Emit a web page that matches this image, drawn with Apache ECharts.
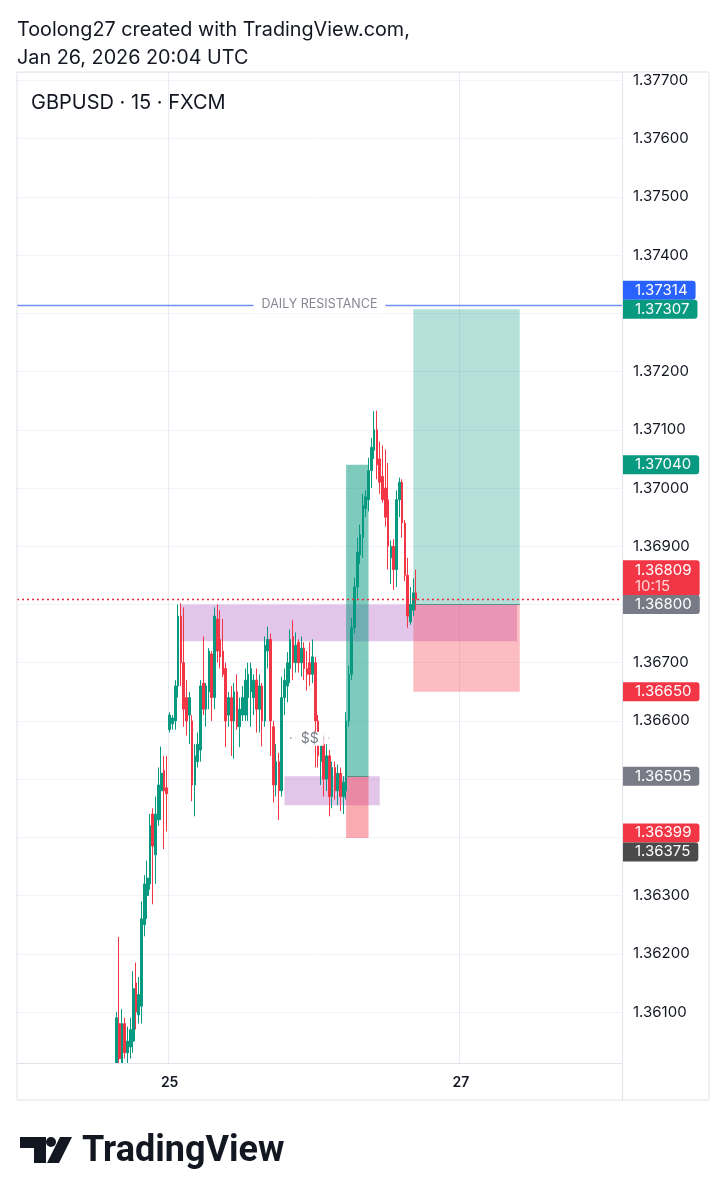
<!DOCTYPE html>
<html>
<head>
<meta charset="utf-8">
<title>GBPUSD 15</title>
<script src="https://cdn.jsdelivr.net/npm/echarts@6/dist/echarts.min.js"></script>
<style>
  html, body { margin: 0; padding: 0; background: #fff; }
  #main { width: 725px; height: 1200px; }
</style>
</head>
<body>
<div id="main"></div>
<script>
// ---- data -------------------------------------------------------------
// 15m bars [open, close, low, high], Fri 23 Jan 17:15 .. Mon 26 Jan 20:00 UTC
var firstBar = 'Jan 23 17:15';
var ohlc = [
  // Friday close
  [1.36000, 1.36090, 1.35980, 1.36100], [1.36080, 1.36020, 1.35990, 1.36229],
  [1.36010, 1.36080, 1.35990, 1.36105], [1.36080, 1.36030, 1.36020, 1.36090],
  [1.36030, 1.36050, 1.36005, 1.36075], [1.36040, 1.36070, 1.36020, 1.36090],
  [1.36050, 1.36140, 1.36030, 1.36170], [1.36150, 1.36100, 1.36070, 1.36185],
  [1.36095, 1.36130, 1.36080, 1.36160], [1.36110, 1.36260, 1.36080, 1.36290],
  [1.36250, 1.36320, 1.36230, 1.36335], [1.36300, 1.36330, 1.36260, 1.36360],
  [1.36320, 1.36420, 1.36310, 1.36440], [1.36440, 1.36385, 1.36285, 1.36450],
  [1.36370, 1.36440, 1.36320, 1.36470], [1.36430, 1.36490, 1.36420, 1.36520],
  [1.36480, 1.36510, 1.36430, 1.36556], [1.36515, 1.36480, 1.36380, 1.36540],
  [1.36485, 1.36475, 1.36410, 1.36540],
  // Sunday open / Monday
  [1.36585, 1.36610, 1.36580, 1.36615], [1.36595, 1.36605, 1.36585, 1.36610],
  [1.36600, 1.36660, 1.36585, 1.36670], [1.36660, 1.36780, 1.36640, 1.36800],
  [1.36780, 1.36700, 1.36660, 1.36802], [1.36700, 1.36620, 1.36590, 1.36795],
  [1.36640, 1.36600, 1.36575, 1.36670], [1.36610, 1.36640, 1.36560, 1.36650],
  [1.36600, 1.36490, 1.36462, 1.36610], [1.36490, 1.36540, 1.36436, 1.36560],
  [1.36530, 1.36560, 1.36520, 1.36580], [1.36550, 1.36660, 1.36530, 1.36670],
  [1.36665, 1.36620, 1.36610, 1.36745], [1.36620, 1.36660, 1.36590, 1.36665],
  [1.36650, 1.36720, 1.36620, 1.36725], [1.36715, 1.36640, 1.36600, 1.36720],
  [1.36640, 1.36780, 1.36620, 1.36795], [1.36775, 1.36720, 1.36700, 1.36800],
  [1.36740, 1.36710, 1.36690, 1.36790], [1.36720, 1.36680, 1.36675, 1.36775],
  [1.36690, 1.36600, 1.36555, 1.36700], [1.36610, 1.36640, 1.36590, 1.36650],
  [1.36640, 1.36600, 1.36540, 1.36660], [1.36600, 1.36650, 1.36535, 1.36665],
  [1.36650, 1.36590, 1.36585, 1.36680], [1.36590, 1.36620, 1.36555, 1.36640],
  [1.36610, 1.36640, 1.36600, 1.36660], [1.36610, 1.36670, 1.36600, 1.36690],
  [1.36640, 1.36680, 1.36600, 1.36700], [1.36650, 1.36690, 1.36590, 1.36700],
  [1.36640, 1.36670, 1.36610, 1.36680], [1.36670, 1.36620, 1.36580, 1.36690],
  [1.36620, 1.36660, 1.36580, 1.36680], [1.36660, 1.36600, 1.36556, 1.36665],
  [1.36600, 1.36730, 1.36590, 1.36745], [1.36720, 1.36740, 1.36690, 1.36762],
  [1.36740, 1.36600, 1.36540, 1.36750], [1.36590, 1.36490, 1.36460, 1.36600],
  [1.36490, 1.36530, 1.36470, 1.36560], [1.36530, 1.36480, 1.36430, 1.36545],
  [1.36480, 1.36640, 1.36470, 1.36676], [1.36640, 1.36670, 1.36610, 1.36690],
  [1.36660, 1.36700, 1.36632, 1.36718], [1.36690, 1.36740, 1.36665, 1.36757],
  [1.36745, 1.36700, 1.36670, 1.36773], [1.36700, 1.36730, 1.36683, 1.36752],
  [1.36735, 1.36700, 1.36683, 1.36740], [1.36700, 1.36725, 1.36676, 1.36745],
  [1.36725, 1.36690, 1.36670, 1.36735], [1.36690, 1.36680, 1.36652, 1.36720],
  [1.36700, 1.36680, 1.36660, 1.36735], [1.36680, 1.36710, 1.36665, 1.36740],
  [1.36700, 1.36600, 1.36520, 1.36710], [1.36600, 1.36540, 1.36520, 1.36610],
  [1.36530, 1.36560, 1.36490, 1.36570], [1.36560, 1.36500, 1.36470, 1.36575],
  [1.36500, 1.36540, 1.36480, 1.36560], [1.36540, 1.36470, 1.36436, 1.36550],
  [1.36470, 1.36520, 1.36450, 1.36530], [1.36520, 1.36480, 1.36465, 1.36530],
  [1.36480, 1.36510, 1.36455, 1.36525], [1.36510, 1.36470, 1.36445, 1.36520],
  [1.36470, 1.36495, 1.36440, 1.36505],
  // rally
  [1.36480, 1.36600, 1.36465, 1.36615], [1.36600, 1.36680, 1.36590, 1.36695],
  [1.36680, 1.36760, 1.36670, 1.36777], [1.36760, 1.36830, 1.36750, 1.36846],
  [1.36830, 1.36890, 1.36810, 1.36915], [1.36885, 1.36920, 1.36870, 1.36937],
  [1.36915, 1.36970, 1.36880, 1.36990], [1.36965, 1.36985, 1.36950, 1.36996],
  [1.36980, 1.37030, 1.36960, 1.37052], [1.37030, 1.37070, 1.37000, 1.37086],
  [1.37065, 1.37100, 1.37050, 1.37132], [1.37100, 1.37040, 1.37015, 1.37133],
  [1.37050, 1.37010, 1.36990, 1.37080], [1.37020, 1.36980, 1.36975, 1.37073],
  [1.37000, 1.36950, 1.36934, 1.37066], [1.36980, 1.36900, 1.36860, 1.37043],
  [1.36880, 1.36900, 1.36835, 1.36910], [1.36900, 1.36860, 1.36825, 1.36912],
  [1.36860, 1.36980, 1.36830, 1.36996], [1.36980, 1.37010, 1.36950, 1.37018],
  [1.37010, 1.36940, 1.36915, 1.37015], [1.36940, 1.36850, 1.36840, 1.36945],
  [1.36850, 1.36780, 1.36760, 1.36880], [1.36770, 1.36800, 1.36765, 1.36830],
  [1.36790, 1.36820, 1.36780, 1.36845], [1.36820, 1.36809, 1.36790, 1.36860]
];

// drawn zones [from, to, low, high]
var zones = [
  ['Jan 25 23:00', 'Jan 27 05:00', 1.36737, 1.36800],
  ['Jan 26 08:15', 'Jan 26 16:45', 1.36455, 1.36505]
];
// long position tools [from, to, entry, target, stop]
var positions = [
  ['Jan 26 13:45', 'Jan 26 15:45', 1.36505, 1.37040, 1.36399],
  ['Jan 26 19:45', 'Jan 27 05:15', 1.36800, 1.37307, 1.36650]
];
var resistance = 1.37314;
var lastPrice = 1.36809;
var countdown = '10:15';
var extraLevel = 1.36375;
var liquidity = ['Jan 26 08:45', 'Jan 26 12:15', 1.36571];

var dayLabels = { 'Jan 25 22:00': '25', 'Jan 27 00:00': '27' };

// trading sessions in quarter hours [day, first, end) - weekend is skipped
var sessions = [['Jan 23', 34, 88], ['Jan 25', 88, 96], ['Jan 26', 0, 96], ['Jan 27', 0, 96]];

function pad(n) { return n < 10 ? '0' + n : '' + n; }
var categories = [];
sessions.forEach(function (s) {
  for (var q = s[1]; q < s[2] && categories.length < 216; q++) {
    categories.push(s[0] + ' ' + pad(Math.floor(q / 4)) + ':' + pad((q % 4) * 15));
  }
});

// ---- chart ------------------------------------------------------------
var FONT = 'Inter, "Noto Sans", sans-serif';
var UP = '#089981', DOWN = '#f23645', GREY = '#787b86', TEXT = '#131722';
var TOP = 1; // layer for bars and drawings, axes/grid stay on layer 0

function idx(name) { return categories.indexOf(name); }

var start = idx(firstBar);
var candles = categories.map(function (c, i) {
  var k = i - start;
  return k >= 0 && k < ohlc.length ? ohlc[k] : '-';
});

var dayIdx = {};
Object.keys(dayLabels).forEach(function (k) { dayIdx[idx(k)] = dayLabels[k]; });
function isDay(i) { return dayIdx[i] !== undefined; }

var tagPrices = [resistance, lastPrice];
positions.forEach(function (p) { tagPrices.push(p[2], p[3], p[4]); });
tagPrices.push(extraLevel);

function tag(value, color, dy) {
  return {
    yAxis: value,
    lineStyle: { color: 'rgba(0,0,0,0)', width: 0 },
    label: {
      show: true, position: 'end', distance: 1,
      formatter: value.toFixed(5),
      color: '#fff', backgroundColor: color, fontSize: 15, fontFamily: FONT,
      lineHeight: 15, padding: [2, 8, 2, 12], borderRadius: [0, 3, 3, 0],
      offset: [0, dy || 0]
    }
  };
}

function box(from, to, top, bottom, color) {
  return [{ xAxis: idx(from), yAxis: top, itemStyle: { color: color } },
          { xAxis: idx(to), yAxis: bottom }];
}

var areas = zones.map(function (z) {
  return box(z[0], z[1], z[3], z[2], 'rgba(156,39,176,0.27)');
});
positions.forEach(function (p, i) {
  areas.push(box(p[0], p[1], p[3], p[2], i === 0 ? 'rgba(8,153,129,0.52)' : 'rgba(8,153,129,0.3)'));
  areas.push(box(p[0], p[1], p[2], p[4], i === 0 ? 'rgba(242,54,69,0.42)' : 'rgba(242,54,69,0.33)'));
});

var lines = [
  {
    yAxis: resistance,
    lineStyle: { color: '#6f8ff2', width: 1.3, type: 'solid' },
    label: {
      show: true, position: 'middle', distance: 0, offset: [0, 8],
      formatter: 'DAILY RESISTANCE', color: '#868993', fontSize: 12.5, fontFamily: FONT,
      backgroundColor: '#fff', padding: [2, 8]
    }
  },
  {
    yAxis: lastPrice,
    lineStyle: { color: '#f0283a', width: 1.3, type: [2, 3] },
    label: {
      show: true, position: 'end', distance: 1,
      formatter: '{p|' + lastPrice.toFixed(5) + '}\n{c|' + countdown + '}',
      backgroundColor: DOWN, padding: [2, 8, 2, 12], borderRadius: [0, 3, 3, 0],
      offset: [0, -21],
      rich: {
        p: { color: '#fff', fontSize: 15, lineHeight: 16, fontFamily: FONT },
        c: { color: 'rgba(255,255,255,0.8)', fontSize: 15, lineHeight: 16, fontFamily: FONT }
      }
    }
  },
  [{ coord: [idx(liquidity[0]), liquidity[2]],
     lineStyle: { color: '#9598a1', width: 1.5, type: [1.5, 4] },
     label: { show: true, position: 'middle', distance: 0, offset: [0, 8], formatter: '$$', color: GREY,
              fontSize: 14, fontFamily: FONT, backgroundColor: '#fff', padding: [0, 5] } },
   { coord: [idx(liquidity[1]), liquidity[2]] }],
  tag(resistance, '#2962ff', -15),
  tag(positions[1][3], UP),
  tag(positions[0][3], UP),
  tag(positions[1][2], GREY),
  tag(positions[1][4], DOWN),
  tag(positions[0][2], GREY),
  tag(positions[0][4], DOWN, -5),
  tag(extraLevel, '#4a4a4a')
];
positions.forEach(function (p) {
  lines.push([{ coord: [idx(p[0]), p[2]], lineStyle: { color: '#5e8f86', width: 1, type: 'solid' }, label: { show: false } },
              { coord: [idx(p[1]), p[2]] }]);
});

var option = {
  animation: false,
  backgroundColor: '#fff',
  textStyle: { fontFamily: FONT },
  title: [
    {
      text: 'Toolong27 created with TradingView.com,\nJan 26, 2026 20:04 UTC',
      left: 17, top: 16, padding: 0,
      textStyle: { fontFamily: FONT, fontSize: 19.8, fontWeight: 'normal', color: TEXT, lineHeight: 28 }
    },
    {
      text: 'GBPUSD · 15 · FXCM',
      left: 31, top: 93, padding: 0,
      textStyle: { fontFamily: FONT, fontSize: 20, fontWeight: 'normal', color: TEXT }
    }
  ],
  grid: { left: 17, right: 103, top: 72, bottom: 137 },
  xAxis: [
    {
      // carries the bars and the day grid lines
      type: 'category',
      data: categories,
      boundaryGap: true,
      axisLine: { lineStyle: { color: '#e0e3eb' } },
      axisTick: { show: false },
      axisLabel: { show: false },
      splitLine: { show: true, interval: isDay, lineStyle: { color: '#e9ecf2' } }
    },
    {
      // day labels, kept above the cover strip below the plot
      type: 'category',
      data: categories,
      position: 'bottom',
      boundaryGap: true,
      zlevel: TOP,
      z: 20,
      axisLine: { show: false },
      axisTick: { show: false },
      splitLine: { show: false },
      axisLabel: {
        interval: isDay,
        formatter: function (v, i) { return dayIdx[i] || ''; },
        color: TEXT, fontSize: 14, fontWeight: 600, margin: 13, fontFamily: FONT
      }
    }
  ],
  yAxis: {
    type: 'value',
    position: 'right',
    min: 1.360124,
    max: 1.377146,
    splitNumber: 17,
    minInterval: 0.001,
    maxInterval: 0.001,
    axisLine: { show: true, lineStyle: { color: '#e0e3eb' } },
    axisTick: { show: false },
    axisLabel: {
      color: TEXT, fontSize: 15, margin: 11, fontFamily: FONT,
      showMinLabel: false, showMaxLabel: false,
      formatter: function (v) {
        var k = Math.round(v * 1000);
        if (Math.abs(v * 1000 - k) > 1e-4) return '';
        var p = k / 1000;
        for (var i = 0; i < tagPrices.length; i++) {
          if (Math.abs(tagPrices[i] - p) < 0.0002) return '';
        }
        return p.toFixed(5);
      }
    },
    splitLine: { show: true, lineStyle: { color: '#f0f3fa' } }
  },
  series: [{
    type: 'candlestick',
    xAxisIndex: 0,
    zlevel: TOP,
    data: candles,
    barWidth: 2.2,
    itemStyle: { color: UP, color0: DOWN, borderColor: UP, borderColor0: DOWN, borderWidth: 1 },
    markArea: { silent: true, zlevel: TOP, z: 1, data: areas },
    markLine: { silent: true, zlevel: TOP, z: 5, symbol: ['none', 'none'], precision: 5, data: lines }
  }],
  graphic: [
    // hide candle parts that fall below the plot
    { type: 'rect', zlevel: TOP, z: 10, silent: true, shape: { x: 17.5, y: 1063.5, width: 604.5, height: 36 },
      style: { fill: '#fff' } },
    { type: 'rect', zlevel: TOP, z: 15, silent: true, shape: { x: 17, y: 72, width: 692, height: 1028 },
      style: { fill: 'none', stroke: '#e0e3eb', lineWidth: 1 } },
    { type: 'line', zlevel: TOP, z: 15, silent: true, shape: { x1: 622.5, y1: 72, x2: 622.5, y2: 1100 },
      style: { stroke: '#e0e3eb', lineWidth: 1 } },
    { type: 'line', zlevel: TOP, z: 15, silent: true, shape: { x1: 17, y1: 1063.5, x2: 622.5, y2: 1063.5 },
      style: { stroke: '#e0e3eb', lineWidth: 1 } },
    // TradingView logo
    { type: 'polygon', shape: { points: [[20, 1137], [46, 1137], [46, 1163], [34, 1163], [34, 1148], [20, 1148]] },
      style: { fill: TEXT } },
    { type: 'circle', shape: { cx: 51, cy: 1142, r: 5 }, style: { fill: TEXT } },
    { type: 'polygon', shape: { points: [[60, 1137], [72, 1137], [59, 1163], [47, 1163]] },
      style: { fill: TEXT } },
    { type: 'text', x: 82, y: 1134,
      style: { text: 'TradingView', font: 'bold 36px Roboto, Inter, sans-serif', fill: TEXT } }
  ]
};

var chart = echarts.init(document.getElementById('main'));
chart.setOption(option);
</script>
</body>
</html>
